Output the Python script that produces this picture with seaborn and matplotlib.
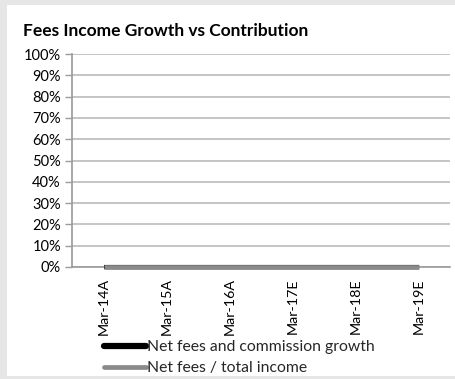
import matplotlib
matplotlib.use("Agg")
import matplotlib.pyplot as plt
import seaborn as sns
import pandas as pd
from matplotlib.lines import Line2D
from matplotlib.ticker import PercentFormatter

periods = ["Mar-14A", "Mar-15A", "Mar-16A", "Mar-17E", "Mar-18E", "Mar-19E"]
fee_growth = [0, 0, 0, 0, 0, 0]
fee_share = [0, 0, 0, 0, 0, 0]
series_names = ["Net fees and commission growth", "Net fees / total income"]
y_ticks = [0, 10, 20, 30, 40, 50, 60, 70, 80, 90, 100]

sns.set_theme(style="white")
plt.rcParams["font.family"] = ["Lato", "DejaVu Sans"]

W, H = 455, 379
fig = plt.figure(figsize=(W / 100, H / 100), dpi=100)
fig.patch.set_facecolor("#e6e6e6")
# white chart panel inside a light grey frame
fig.add_artist(plt.Rectangle((7 / W, 3 / H), (W - 7) / W, (H - 8) / H,
                             transform=fig.transFigure, facecolor="white",
                             edgecolor="none", zorder=0))

ax = fig.add_axes([72 / W, 112 / H, 378 / W, 213 / H])
ax.set_facecolor("none")

df = pd.DataFrame({"period": periods, "growth": fee_growth, "share": fee_share})
df["x"] = range(len(periods))

sns.lineplot(data=df, x="x", y="growth", ax=ax, color="black", linewidth=3.0,
             solid_capstyle="butt", legend=False, clip_on=False, zorder=3)
sns.lineplot(data=df, x="x", y="share", ax=ax, color="#8a8a8a", linewidth=3.4,
             solid_capstyle="butt", legend=False, clip_on=False, zorder=4)

ax.set_xlim(-0.5, len(periods) - 0.5)
ax.set_ylim(0, 100)
ax.set_yticks(y_ticks)
ax.yaxis.set_major_formatter(PercentFormatter(decimals=0))
ax.set_xticks(df["x"])
ax.set_xticklabels(periods, rotation=90, fontsize=10.3, color="black")
ax.tick_params(axis="y", labelsize=10.5, colors="black", length=5, width=1,
               color="#9a9a9a", pad=3, left=True)
ax.tick_params(axis="x", length=0, pad=8)
ax.grid(axis="y", color="#c0c0c0", linewidth=1.3)
ax.set_axisbelow(True)
for side in ["top", "right"]:
    ax.spines[side].set_visible(False)
ax.spines["left"].set_color("#9a9a9a")
ax.spines["bottom"].set_color("#9a9a9a")
ax.spines["left"].set_linewidth(1.2)
ax.spines["bottom"].set_linewidth(1.2)
ax.set_xlabel("")
ax.set_ylabel("")

fig.text(23 / W, 1 - 31 / H, "Fees Income Growth vs Contribution",
         fontsize=12.5, fontweight="bold", color="black", va="center")

handles = [
    Line2D([], [], color="black", linewidth=4.5, solid_capstyle="round"),
    Line2D([], [], color="#8a8a8a", linewidth=3.4, solid_capstyle="round"),
]
fig.legend(handles, series_names, loc="upper left",
           bbox_to_anchor=(104 / W, 1 - 340 / H), frameon=False,
           fontsize=11.3, handlelength=2.7, handletextpad=0.05,
           labelspacing=0.45, borderpad=0, borderaxespad=0)

fig.savefig("out.png", dpi=100, facecolor=fig.get_facecolor())
